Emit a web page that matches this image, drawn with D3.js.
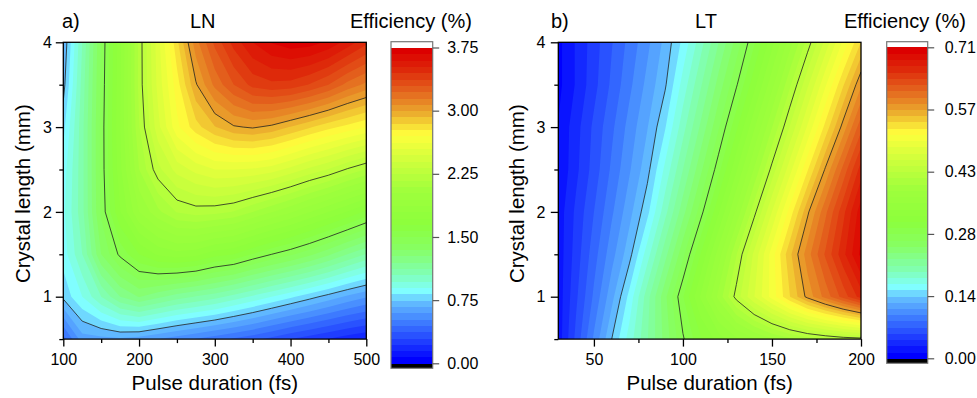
<!DOCTYPE html>
<html><head><meta charset="utf-8">
<script src="https://cdn.jsdelivr.net/npm/d3@7"></script>
<style>body{margin:0;background:#fff} svg{display:block}</style>
</head><body><svg id="c" width="977" height="398"></svg>
<script>
// ---------- Data ----------
// Panel a) LN
const lnPulse  = [100,125,150,175,200,225,250,275,300,325,350,375,400,425,450,475,500];
const lnLength = [0.5,1.0,1.5,2.0,2.5,3.0,3.5,4.0];
const lnEff = [
 [0.42,0.64,0.65,0.66,0.64,0.60,0.56,0.52,0.48,0.44,0.40,0.35,0.30,0.26,0.22,0.18,0.15],
 [0.77,0.90,1.05,1.20,1.28,1.22,1.16,1.12,1.08,1.02,0.96,0.90,0.84,0.78,0.72,0.66,0.61],
 [0.86,1.05,1.35,1.52,1.65,1.74,1.77,1.75,1.68,1.65,1.57,1.50,1.44,1.37,1.29,1.20,1.12],
 [0.88,1.10,1.44,1.72,1.95,2.08,2.18,2.21,2.20,2.17,2.10,2.03,1.96,1.88,1.80,1.72,1.63],
 [0.86,1.10,1.45,1.78,2.10,2.30,2.43,2.50,2.55,2.55,2.54,2.51,2.45,2.38,2.32,2.24,2.17],
 [0.80,1.10,1.45,1.80,2.17,2.45,2.68,2.82,2.92,2.99,3.01,2.98,2.92,2.86,2.80,2.75,2.70],
 [0.72,1.08,1.44,1.79,2.20,2.50,2.74,2.99,3.17,3.30,3.40,3.43,3.42,3.37,3.30,3.20,3.13],
 [0.68,1.05,1.43,1.78,2.20,2.52,2.83,3.12,3.32,3.48,3.60,3.68,3.72,3.71,3.66,3.57,3.47]
];
const lnXMajor = [100,200,300,400,500];
const lnXMinor = [150,250,350,450];
const lnLines  = [0.75,1.50,2.25,3.00];
const lnBarTicks  = [0,0.75,1.50,2.25,3.00,3.75];
const lnBarLabels = ["0.00","0.75","1.50","2.25","3.00","3.75"];

// Panel b) LT
const ltPulse  = [30,40,50,60,70,80,90,100,110,120,130,140,150,160,170,180,190,200];
const ltLength = [0.5,1.0,1.5,2.0,2.5,3.0,3.5,4.0];
const ltEff = [
 [0.020,0.061,0.102,0.142,0.177,0.212,0.247,0.282,0.310,0.333,0.352,0.368,0.382,0.394,0.404,0.411,0.417,0.420],
 [0.020,0.054,0.088,0.123,0.161,0.207,0.252,0.297,0.343,0.388,0.432,0.468,0.503,0.539,0.573,0.602,0.631,0.660],
 [0.020,0.049,0.079,0.108,0.137,0.178,0.222,0.266,0.313,0.362,0.411,0.458,0.504,0.550,0.590,0.627,0.663,0.700],
 [0.020,0.046,0.071,0.097,0.123,0.152,0.194,0.236,0.278,0.325,0.373,0.421,0.469,0.517,0.565,0.607,0.649,0.690],
 [0.015,0.039,0.063,0.088,0.112,0.137,0.174,0.213,0.252,0.293,0.339,0.385,0.431,0.477,0.524,0.570,0.615,0.660],
 [0.015,0.037,0.060,0.082,0.105,0.127,0.155,0.193,0.230,0.268,0.309,0.353,0.397,0.441,0.485,0.530,0.574,0.620],
 [0.010,0.030,0.052,0.074,0.096,0.118,0.140,0.176,0.211,0.247,0.282,0.322,0.365,0.409,0.452,0.495,0.538,0.580],
 [0.010,0.030,0.050,0.070,0.090,0.110,0.132,0.160,0.193,0.227,0.261,0.296,0.336,0.377,0.418,0.459,0.500,0.540]
];
const ltXMajor = [50,100,150,200];
const ltXMinor = [75,125,175];
const ltLines  = [0.142,0.284,0.426,0.568];
const ltBarTicks  = [0,0.142,0.284,0.426,0.568,0.71];
const ltBarLabels = ["0.00","0.14","0.28","0.43","0.57","0.71"];

const yMajor = [1,2,3,4];
const yMinor = [0.5,1.5,2.5,3.5];

// colour map (fraction of full scale -> colour)
const paletteStops  = [0.00,0.06,0.12,0.19,0.225,0.28,0.36,0.44,0.55,0.65,0.73,0.80,0.87,0.94,1.00];
const paletteColors = ["rgb(0,0,255)","rgb(30,60,255)","rgb(60,120,255)","rgb(100,190,255)","rgb(128,255,255)",
  "rgb(128,255,180)","rgb(135,255,100)","rgb(140,255,60)","rgb(160,255,60)","rgb(210,255,60)","rgb(255,255,60)",
  "rgb(235,170,45)","rgb(228,100,30)","rgb(222,40,10)","rgb(220,0,0)"];

const FONT = '"Liberation Sans", Arial, Helvetica, sans-serif';
const svg = d3.select("#c");

function colorAt(f){
  f = Math.max(0, Math.min(1, f));
  for (let k = 1; k < paletteStops.length; k++) {
    if (f <= paletteStops[k]) {
      const t = (f - paletteStops[k-1]) / (paletteStops[k] - paletteStops[k-1]);
      return d3.interpolateRgb(paletteColors[k-1], paletteColors[k])(t);
    }
  }
  return paletteColors[paletteColors.length - 1];
}

function drawPanel(c, id){
  const g = svg.append("g");
  const x = d3.scaleLinear().domain(c.xDomain).range([c.left, c.right]);
  const y = d3.scaleLinear().domain(c.yDomain).range([c.bottom, c.top]);
  const nx = c.pulse.length, ny = c.length.length;
  const values = [];
  for (let j = 0; j < ny; j++) for (let i = 0; i < nx; i++) values.push(c.eff[j][i]);
  const ix = d3.scaleLinear().domain([0, nx-1]).range([c.pulse[0], c.pulse[nx-1]]);
  const iy = d3.scaleLinear().domain([0, ny-1]).range([c.length[0], c.length[ny-1]]);
  const proj = d3.geoTransform({point(px, py){ this.stream.point(x(ix(px-0.5)), y(iy(py-0.5))); }});
  const path = d3.geoPath(proj);

  svg.append("clipPath").attr("id", "clip" + id).append("rect")
    .attr("x", c.left).attr("y", c.top).attr("width", c.right - c.left).attr("height", c.bottom - c.top);

  const plot = g.append("g").attr("clip-path", `url(#clip${id})`);
  const nL = c.levels;
  const thresholds = d3.range(nL).map(i => i * c.vmax / nL);
  const fills = d3.contours().size([nx, ny]).thresholds(thresholds)(values);
  plot.append("rect").attr("x", c.left).attr("y", c.top).attr("width", c.right - c.left)
    .attr("height", c.bottom - c.top).attr("fill", colorAt(0));
  plot.selectAll("path.f").data(fills).join("path").attr("class", "f")
    .attr("d", path).attr("fill", (d, i) => colorAt(i / (nL - 1))).attr("stroke", "none");
  const lines = d3.contours().size([nx, ny]).thresholds(c.lineLevels)(values);
  plot.selectAll("path.l").data(lines).join("path").attr("class", "l")
    .attr("d", path).attr("fill", "none").attr("stroke", "#222").attr("stroke-width", 0.8);

  // axes
  function styleAxis(sel){
    sel.attr("font-size", 16).attr("font-family", FONT);
    sel.select(".domain").remove();
    sel.selectAll("line").attr("stroke", "#000").attr("stroke-width", 1.3);
    sel.selectAll("text").attr("fill", "#000");
  }
  g.append("g").attr("transform", `translate(0,${c.bottom})`)
    .call(d3.axisBottom(x).tickValues(c.xMajor).tickSize(7.5).tickPadding(7).tickFormat(d3.format("d"))).call(styleAxis);
  g.append("g").attr("transform", `translate(0,${c.bottom})`)
    .call(d3.axisBottom(x).tickValues(c.xMinor).tickSize(4).tickFormat("")).call(styleAxis);
  g.append("g").attr("transform", `translate(${c.left},0)`)
    .call(d3.axisLeft(y).tickValues(yMajor).tickSize(7.5).tickPadding(c.ytickPad).tickFormat(d3.format("d"))).call(styleAxis);
  g.append("g").attr("transform", `translate(${c.left},0)`)
    .call(d3.axisLeft(y).tickValues(yMinor).tickSize(4).tickFormat("")).call(styleAxis);

  g.append("rect").attr("x", c.left).attr("y", c.top).attr("width", c.right - c.left)
    .attr("height", c.bottom - c.top).attr("fill", "none").attr("stroke", "#000").attr("stroke-width", 1.3);

  // titles
  const T = (txt, xx, yy, size, anchor) => g.append("text").text(txt).attr("x", xx).attr("y", yy)
    .attr("font-size", size).attr("font-family", FONT).attr("text-anchor", anchor || "start").attr("fill", "#000");
  T(c.letter, c.letterX, 28, 20);
  T(c.title, c.titleX, 28, 20);
  T("Efficiency (%)", c.effX, 28, 20);
  T("Pulse duration (fs)", (c.left + c.right) / 2, 390, 20.5, "middle");
  g.append("text").text("Crystal length (mm)")
    .attr("transform", `translate(${c.ytitleX},${(c.top + c.bottom) / 2 + 3}) rotate(-90)`)
    .attr("font-size", 20.5).attr("font-family", FONT).attr("text-anchor", "middle").attr("fill", "#000");

  // colour bar
  const cb = c.cb;
  const cy = d3.scaleLinear().domain([0, c.vmax]).range([cb.vBottom, cb.vTop]);
  const bar = g.append("g").attr("shape-rendering", "crispEdges");
  bar.append("rect").attr("x", cb.left).attr("width", cb.right - cb.left).attr("y", cb.top)
    .attr("height", cb.vTop - cb.top).attr("fill", "#fff");
  bar.append("rect").attr("x", cb.left).attr("width", cb.right - cb.left).attr("y", cb.vBottom)
    .attr("height", cb.bottom - cb.vBottom).attr("fill", "#000");
  bar.selectAll("rect.b").data(thresholds).join("rect").attr("class", "b")
    .attr("x", cb.left).attr("width", cb.right - cb.left)
    .attr("y", d => cy(d + c.vmax / nL)).attr("height", d => cy(d) - cy(d + c.vmax / nL) + 0.5)
    .attr("fill", (d, i) => colorAt(i / (nL - 1)));
  g.append("rect").attr("x", cb.left).attr("y", cb.top).attr("width", cb.right - cb.left)
    .attr("height", cb.bottom - cb.top).attr("fill", "none").attr("stroke", "#777").attr("stroke-width", 1.2);
  g.append("g").attr("transform", `translate(${cb.right},0)`)
    .call(d3.axisRight(cy).tickValues(c.cbTicks).tickSize(6.5).tickPadding(cb.labelGap)
      .tickFormat((d, i) => c.cbLabels[i])).call(sel => {
        sel.attr("font-size", 16).attr("font-family", FONT);
        sel.select(".domain").remove();
        sel.selectAll("line").attr("stroke", "#555").attr("stroke-width", 1.2);
        sel.selectAll("text").attr("fill", "#000");
      });
}

drawPanel({
  pulse: lnPulse, length: lnLength, eff: lnEff,
  xDomain: [100, 500], yDomain: [0.5, 4],
  left: 63.3, right: 366.3, top: 42.3, bottom: 339.1,
  xMajor: lnXMajor, xMinor: lnXMinor, ytickPad: 4,
  vmax: 3.75, levels: 50, lineLevels: lnLines,
  cbTicks: lnBarTicks, cbLabels: lnBarLabels,
  cb: {left: 391, right: 432.7, top: 41.7, vTop: 47.5, vBottom: 363.3, bottom: 368.3, labelGap: 8},
  letter: "a)", letterX: 62, title: "LN", titleX: 190, effX: 350, ytitleX: 30
}, "a");

drawPanel({
  pulse: ltPulse, length: ltLength, eff: ltEff,
  xDomain: [30, 200], yDomain: [0.5, 4],
  left: 558.3, right: 861, top: 42.3, bottom: 339.1,
  xMajor: ltXMajor, xMinor: ltXMinor, ytickPad: 5.5,
  vmax: 0.71, levels: 50, lineLevels: ltLines,
  cbTicks: ltBarTicks, cbLabels: ltBarLabels,
  cb: {left: 886.7, right: 927.7, top: 41.7, vTop: 47.3, vBottom: 358.3, bottom: 363.3, labelGap: 10.5},
  letter: "b)", letterX: 551, title: "LT", titleX: 695, effX: 844, ytitleX: 524
}, "b");
</script>
</body></html>
